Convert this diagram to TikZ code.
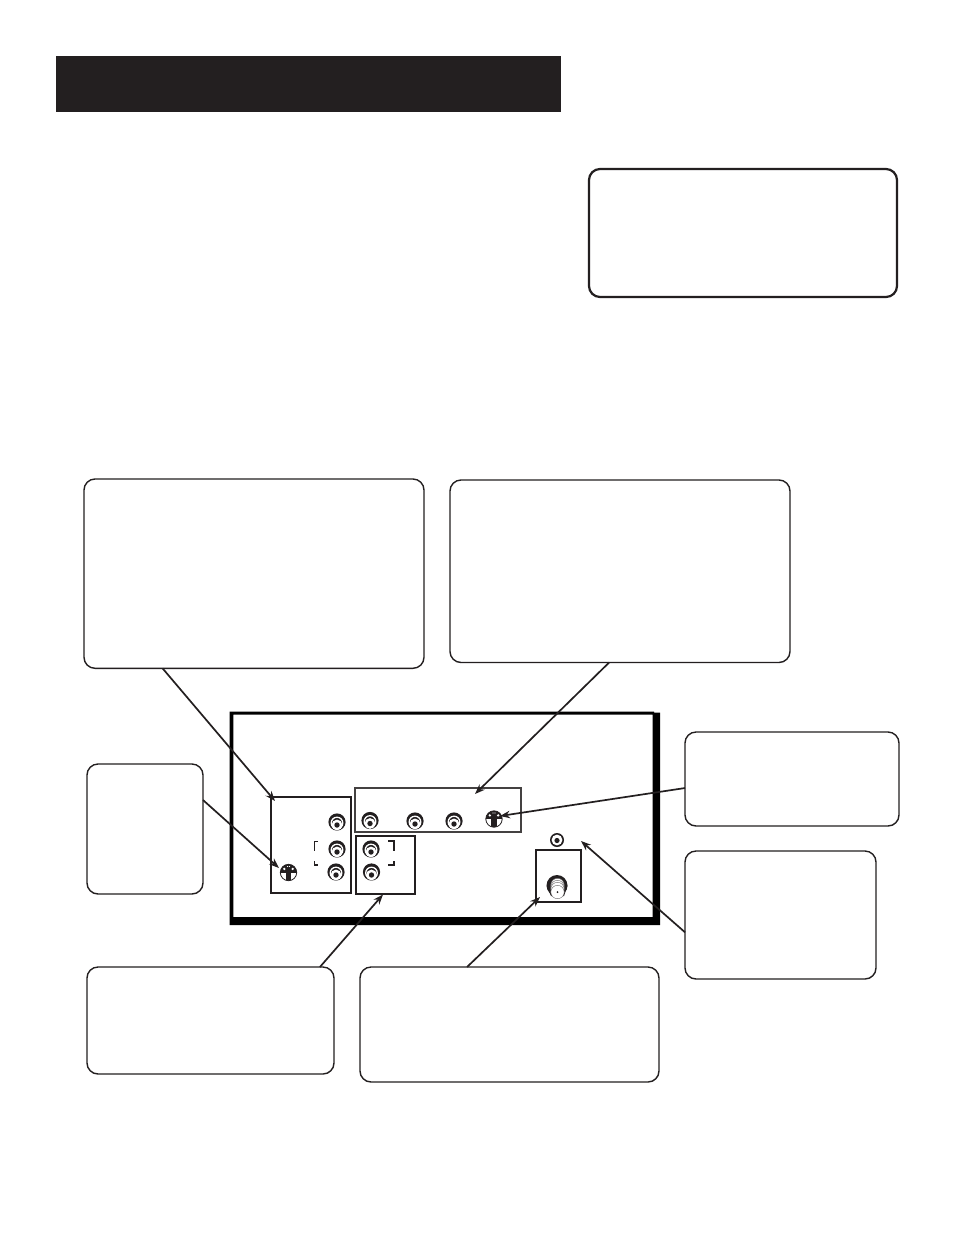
\documentclass[tikz,border=0pt]{standalone}
\usetikzlibrary{calc,arrows.meta}
\definecolor{ink}{HTML}{231F20}
\tikzset{
 callout/.style={draw=ink,line width=1.4pt,rounded corners=11pt,fill=white,inner sep=0pt,outer sep=0pt,anchor=north west},
 panelbox/.style={draw=ink,line width=1.7pt,inner sep=0pt,outer sep=0pt,anchor=north west},
 pointer/.style={draw=ink,line width=1.7pt,-{Stealth[length=10pt,width=7.5pt]}},
 jack/.pic={
  \fill[ink] (0,0) circle (8.6);
  \draw[white,line width=1.3pt] (0,1) circle (5.8);
  \fill[white] (0,3) circle (5.4);
  \fill[ink] (0,3) circle (2.7);
 },
 svideo/.pic={
  \fill[white] (0,0) circle (8.5);
  \draw[ink,line width=.8pt] (0,0) circle (8.2);
  \begin{scope}
   \clip (0,0) circle (8.2);
   \fill[ink] (-9,-9) rectangle (9,0);
   \fill[ink] (-2.6,-1) rectangle (2.6,9);
  \end{scope}
  \fill[white] (-4.2,-3.6) circle (1.3) (4.2,-3.6) circle (1.3) (-1,-6) circle (.7) (1,-6) circle (.7);
 },
}
\begin{document}
\begin{tikzpicture}[x=1pt,y=-1pt]
\useasboundingbox (0,0) rectangle (954,1235);
\fill[white] (0,0) rectangle (954,1235);
\node[fill=ink,inner sep=0pt,outer sep=0pt,minimum width=505pt,minimum height=56pt,anchor=north west] (header) at (56,56) {};
\node[callout,line width=2.2pt,minimum width=308pt,minimum height=128pt] (note) at (589,169) {};
\node[callout,minimum width=340pt,minimum height=189.3pt] (boxa) at (84,479) {};
\node[callout,minimum width=340pt,minimum height=182.5pt] (boxb) at (450,480) {};
\node[callout,minimum width=214pt,minimum height=94pt] (boxc) at (685,732) {};
\node[callout,minimum width=191pt,minimum height=128pt] (boxd) at (685,851) {};
\node[callout,minimum width=116pt,minimum height=130pt] (boxe) at (87,764) {};
\node[callout,minimum width=247pt,minimum height=107pt] (boxf) at (87,967) {};
\node[callout,minimum width=299pt,minimum height=115pt] (boxg) at (360,967) {};
% TV back frame
\fill[black] (229.7,711.7) -- (654,711.7) -- (654,712.6) -- (660,712.6) -- (660,925) -- (229.7,925) -- cycle
  (233.3,714.7) -- (233.3,917) -- (652.7,917) -- (652.7,714.7) -- cycle;
% panels
\node[panelbox,minimum width=80pt,minimum height=96pt] (left) at (271,797) {};
\node[panelbox,draw=ink!85,minimum width=166pt,minimum height=44pt] (strip) at (355,788) {};
\node[panelbox,line width=2pt,minimum width=59pt,minimum height=58pt] (lower) at (356,836) {};
\node[panelbox,line width=2pt,minimum width=45pt,minimum height=52pt] (coaxbox) at (536,850) {};
% brackets
\draw[ink,line width=1.8pt] (318,841.5) -- (314.5,841.5) -- (314.5,851);
\draw[ink,line width=1.8pt] (314.5,861) -- (314.5,865) -- (318,865);
\draw[ink,line width=1.8pt] (388,841) -- (394,841) -- (394,851);
\draw[ink,line width=1.8pt] (394,861) -- (394,865) -- (388,865);
% jacks
\foreach \p/\q in {337/822,337/849,336/872,370/820.5,371/849,371.5/872,415/821,454/821}
  \pic at (\p,\q) {jack};
\pic at (288.5,872.5) {svideo};
\pic at (494,819) {svideo};
% small jack
\fill[ink] (557,840) circle (7);
\fill[white] (557,840) circle (5.4);
\fill[ink] (557,840.5) circle (2.6);
% coax
\fill[ink] (557,885.5) circle (10.5);
\fill[ink] (546.5,885.5) -- (551,896) -- (564,896) -- (567.5,885.5) -- cycle;
\foreach \yy in {885,887,889,892}{\filldraw[fill=white,draw=ink!70,line width=.4pt] (557.5,\yy) circle (6.7);}
\fill[ink] (557.5,892) circle (1);
% connectors
\coordinate (ta) at (275,801);
\coordinate (tb) at (475,794);
\coordinate (tc) at (500,816);
\coordinate (td) at (581,841);
\coordinate (te) at (279,868);
\coordinate (tf) at (383,894.5);
\coordinate (tg) at (540,897);
\draw[pointer] ($(boxa.south west)!.231!(boxa.south east)$) -- (ta);
\draw[pointer] ($(boxb.south west)!.468!(boxb.south east)$) -- (tb);
\draw[pointer] ($(boxc.north west)!.596!(boxc.south west)$) -- (tc);
\draw[pointer] ($(boxd.north west)!.635!(boxd.south west)$) -- (td);
\draw[pointer] ($(boxe.north east)!.277!(boxe.south east)$) -- (te);
\draw[pointer] ($(boxf.north west)!.943!(boxf.north east)$) -- (tf);
\draw[pointer] ($(boxg.north west)!.358!(boxg.north east)$) -- (tg);
\end{tikzpicture}
\end{document}
